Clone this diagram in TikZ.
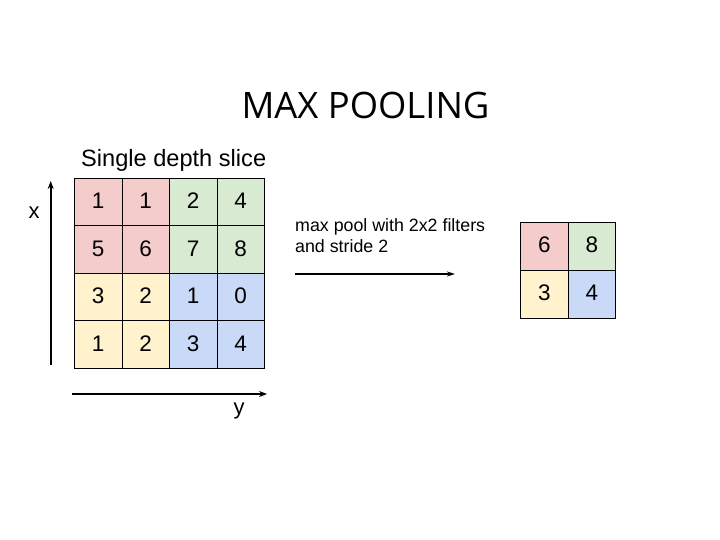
\documentclass[tikz,border=0pt]{standalone}
\usepackage{fontspec}
\setmainfont{Liberation Sans}
\newfontfamily\titlefont{Open Sans}
\usetikzlibrary{arrows.meta}
\definecolor{cred}{HTML}{F4CCCC}
\definecolor{cgreen}{HTML}{D9EAD3}
\definecolor{cyellow}{HTML}{FFF2CC}
\definecolor{cblue}{HTML}{C9DAF8}
\tikzset{
  cell/.style={draw=black, line width=0.9pt, minimum width=47.5pt, minimum height=47.5pt, inner sep=0pt, text height=16pt, text depth=3pt, font=\fontsize{22.5}{22.5}\selectfont},
  ocell/.style={cell, minimum height=48pt},
  axis/.style={line width=1.8pt, -{Stealth[length=8pt,width=6pt]}},
  lbl/.style={inner sep=0pt, font=\fontsize{22}{22}\selectfont},
}
\begin{document}
\begin{tikzpicture}[x=1pt,y=-1pt]
\useasboundingbox[fill=white] (0,0) rectangle (720,540);
\node[inner sep=0pt, anchor=base, font=\titlefont\fontsize{36.4}{36.4}\selectfont] (title) at (365.5,118.3) {MAX POOLING};
\node[inner sep=0pt, anchor=base west, font=\fontsize{23.6}{23.6}\selectfont] (slice) at (81,166.7) {Single depth slice};
% input grid
\node[cell, fill=cred]    (a11) at (98.25,202.05) {1};
\node[cell, fill=cred]    (a12) at (145.75,202.05) {1};
\node[cell, fill=cgreen]  (a13) at (193.25,202.05) {2};
\node[cell, fill=cgreen]  (a14) at (240.75,202.05) {4};
\node[cell, fill=cred]    (a21) at (98.25,249.55) {5};
\node[cell, fill=cred]    (a22) at (145.75,249.55) {6};
\node[cell, fill=cgreen]  (a23) at (193.25,249.55) {7};
\node[cell, fill=cgreen]  (a24) at (240.75,249.55) {8};
\node[cell, fill=cyellow] (a31) at (98.25,297.05) {3};
\node[cell, fill=cyellow] (a32) at (145.75,297.05) {2};
\node[cell, fill=cblue]   (a33) at (193.25,297.05) {1};
\node[cell, fill=cblue]   (a34) at (240.75,297.05) {0};
\node[cell, fill=cyellow] (a41) at (98.25,344.55) {1};
\node[cell, fill=cyellow] (a42) at (145.75,344.55) {2};
\node[cell, fill=cblue]   (a43) at (193.25,344.55) {3};
\node[cell, fill=cblue]   (a44) at (240.75,344.55) {4};
% output grid
\node[ocell, fill=cred]    (b11) at (544.45,246.3) {6};
\node[ocell, fill=cgreen]  (b12) at (591.95,246.3) {8};
\node[ocell, fill=cyellow] (b21) at (544.45,294.3) {3};
\node[ocell, fill=cblue]   (b22) at (591.95,294.3) {4};
% axes
\coordinate (xs) at (50.7,365);
\coordinate (xe) at (50.7,181);
\coordinate (ys) at (71.7,394);
\coordinate (ye) at (267,394);
\draw[axis] (xs) -- (xe);
\draw[axis] (ys) -- (ye);
\node[lbl] (xl) at (34,213) {x};
\node[lbl] (yl) at (239,411) {y};
% pooling arrow
\node[inner sep=0pt, anchor=north west, align=left, font=\fontsize{17.8}{21}\selectfont] (desc) at (295,218) {max pool with 2x2 filters\\and stride 2};
\coordinate (ps) at (295,274);
\coordinate (pe) at (455,274);
\draw[line width=1.5pt, -{Stealth[length=8pt,width=5pt]}] (ps) -- (pe);
\end{tikzpicture}
\end{document}
